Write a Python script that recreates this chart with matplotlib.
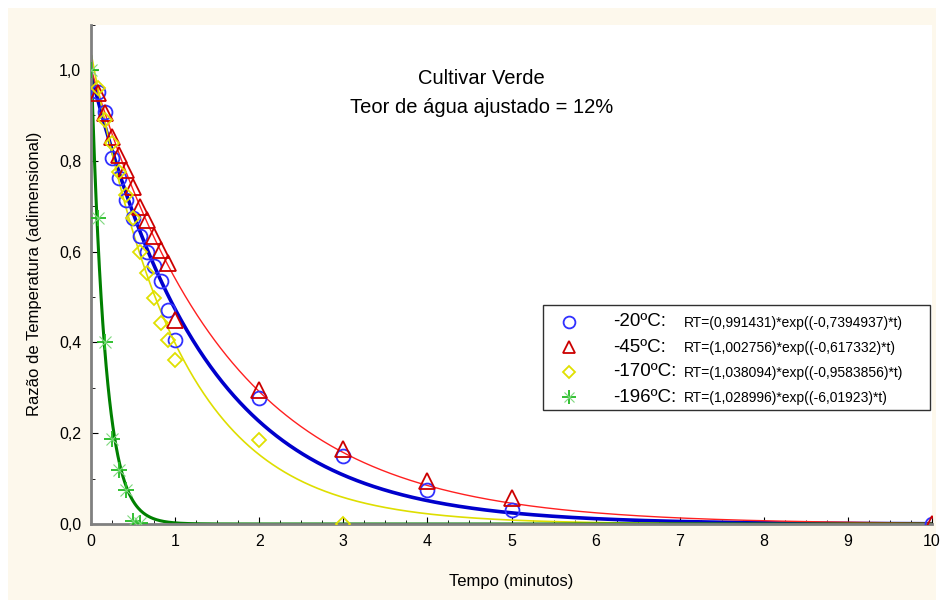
import numpy as np
import matplotlib.pyplot as plt
from matplotlib.patches import Rectangle
from matplotlib.ticker import MultipleLocator, FuncFormatter

plt.rcParams['font.family'] = ['Liberation Sans', 'DejaVu Sans']

# sampling times (minutes): every 5 s during the first minute, then 2, 3, 4, 5, 10
t_first = [1/12, 2/12, 3/12, 4/12, 5/12, 6/12, 7/12, 8/12, 9/12, 10/12, 11/12, 1.0]
t_late = [2, 3, 4, 5, 10]

rt_m20 = [0.951, 0.907, 0.806, 0.762, 0.714, 0.674, 0.634, 0.599, 0.568, 0.535, 0.471, 0.405,
          0.278, 0.150, 0.075, 0.031, 0.0]
rt_m45 = [0.95, 0.905, 0.852, 0.813, 0.780, 0.742, 0.698, 0.670, 0.634, 0.603, 0.575, 0.450,
          0.295, 0.165, 0.095, 0.058, 0.0]
rt_m170 = [0.96, 0.89, 0.840, 0.775, 0.725, 0.674, 0.600, 0.553, 0.498, 0.443, 0.405, 0.361,
           0.185, 0.0]
rt_m196 = [1.0, 0.674, 0.400, 0.187, 0.120, 0.075, 0.007, 0.002]

t_m20 = t_first + t_late
t_m45 = t_first + t_late
t_m170 = t_first + [2, 3]
t_m196 = [0] + t_first[:7]

# fitted model RT = a * exp(b * t)
labels = ['-20ºC:', '-45ºC:', '-170ºC:', '-196ºC:']
fit_a = [0.991431, 1.002756, 1.038094, 1.028996]
fit_b = [-0.7394937, -0.617332, -0.9583856, -6.01923]
fit_text = ['RT=(0,991431)*exp((-0,7394937)*t)',
            'RT=(1,002756)*exp((-0,617332)*t)',
            'RT=(1,038094)*exp((-0,9583856)*t)',
            'RT=(1,028996)*exp((-6,01923)*t)']

fig = plt.figure(figsize=(9.41, 6), dpi=100, facecolor='white')
fig.patches.append(Rectangle((8 / 941, 0), 928 / 941, 592 / 600, transform=fig.transFigure,
                             facecolor='#fdf8ec', edgecolor='none', zorder=-10))
ax = fig.add_axes([91 / 941, 76 / 600, 841 / 941, 499.4 / 600])

styles = [
    dict(marker='o', mec='#3030ff', ms=10, line='#0000cc', lw=2.6),
    dict(marker='^', mec='#cc0000', ms=11, line='#ff2020', lw=1.0),
    dict(marker='D', mec='#e0e000', ms=7.5, line='#dede00', lw=1.2),
    dict(marker='+', mec='#22bb22', ms=12, line='#008000', lw=2.2),
]
times = [t_m20, t_m45, t_m170, t_m196]
values = [rt_m20, rt_m45, rt_m170, rt_m196]


def draw_marker(x, y, st, scale=1.0, **kw):
    ax.plot(x, y, linestyle='none', marker=st['marker'], ms=st['ms'] * scale, mfc='none',
            mec=st['mec'], mew=1.3, **kw)
    if st['marker'] == '+':
        # the asterisk gets faint diagonal arms on top of the plus
        ax.plot(x, y, linestyle='none', marker='x', ms=st['ms'] * scale * 0.75, mfc='none',
                mec='#7fd87f', mew=0.8, **kw)


tt = np.linspace(0, 10, 1000)
for st, a, b, ts, vs in zip(styles, fit_a, fit_b, times, values):
    draw_marker(ts, vs, st, zorder=3)
    ax.plot(tt, a * np.exp(b * tt), color=st['line'], lw=st['lw'], zorder=2)

ax.set_xlim(0, 10)
ax.set_ylim(0, 1.1)
ax.xaxis.set_major_locator(MultipleLocator(1))
ax.xaxis.set_minor_locator(MultipleLocator(0.25))
ax.yaxis.set_major_locator(MultipleLocator(0.2))
ax.yaxis.set_minor_locator(MultipleLocator(0.1))
ax.yaxis.set_major_formatter(FuncFormatter(lambda v, p: f'{v:.1f}'.replace('.', ',')))
ax.tick_params(which='both', direction='in', labelsize=11.5, color='black')
ax.tick_params(which='major', length=5, pad=7)
ax.tick_params(which='minor', length=3)
for s in ['top', 'right']:
    ax.spines[s].set_visible(False)
for s in ['left', 'bottom']:
    ax.spines[s].set_color('#808080')
    ax.spines[s].set_linewidth(2)

ax.set_xlabel('Tempo (minutos)', fontsize=12, labelpad=18)
ax.set_ylabel('Razão de Temperatura (adimensional)', fontsize=12, labelpad=12)

ax.text(0.464, 0.893, 'Cultivar Verde', transform=ax.transAxes, ha='center', va='center', fontsize=14.5)
ax.text(0.464, 0.833, 'Teor de água ajustado = 12%', transform=ax.transAxes, ha='center',
        va='center', fontsize=14.5)


# legend box drawn by hand so the equations can use a smaller font
def px(x, y):
    return ((x - 91) / 841, (524 - y) / 499.4)


x0, y0 = px(543, 410)
x1, y1 = px(930, 305)
ax.add_patch(Rectangle((x0, y0), x1 - x0, y1 - y0, transform=ax.transAxes, facecolor='white',
                       edgecolor='#303030', lw=1.0, zorder=5, clip_on=False))
row_y = [322, 347, 372, 397]
for st, lab, eq, ry in zip(styles, labels, fit_text, row_y):
    mx, my = px(569, ry)
    draw_marker([mx], [my], st, scale=0.85, transform=ax.transAxes, zorder=6, clip_on=False)
    lx, ly = px(613, ry)
    ax.text(lx, ly, lab, transform=ax.transAxes, ha='left', va='center', fontsize=13.5, zorder=6)
    ex, ey = px(684, ry + 1)
    ax.text(ex, ey, eq, transform=ax.transAxes, ha='left', va='center', fontsize=10, zorder=6)

fig.savefig('out.png', dpi=100, facecolor=fig.get_facecolor())
